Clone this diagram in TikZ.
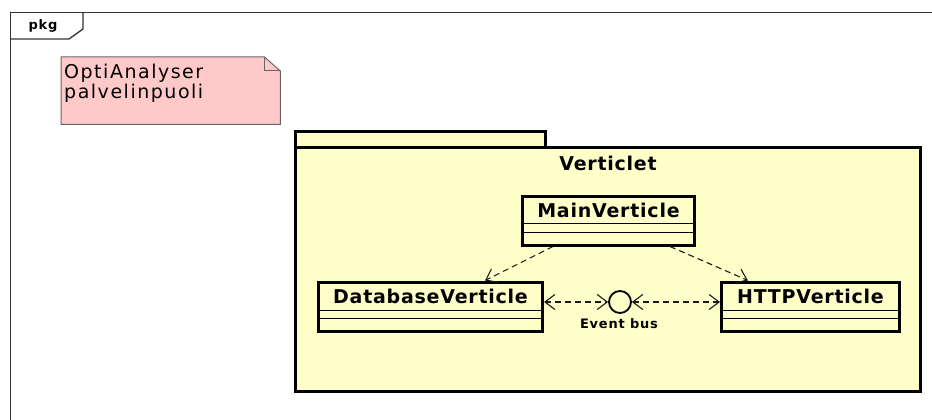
\documentclass[tikz,border=0pt]{standalone}
\usepackage{fontspec}
\setmainfont{DejaVu Sans}
\newfontfamily\clsfont[LetterSpace=4]{DejaVu Sans}
\newfontfamily\notefont[LetterSpace=8]{DejaVu Sans}
\newfontfamily\smallfont[LetterSpace=6]{DejaVu Sans}
\usetikzlibrary{arrows.meta}
\definecolor{pkgyellow}{HTML}{FFFFCA}
\definecolor{notepink}{HTML}{FFC9C9}
\tikzset{
  frameline/.style={draw=black!80, line width=1.3pt},
  pkgbox/.style={draw=black, line width=3pt, fill=pkgyellow, inner sep=0pt},
  classbox/.style={draw=black, line width=3pt, fill=pkgyellow, inner xsep=0pt, inner ysep=0pt,
    anchor=north, font=\fontsize{19}{21}\clsfont\bfseries\selectfont},
  sepline/.style={draw=black, line width=1pt},
  dep/.style={draw=black!90, line width=1.1pt, dash pattern=on 6pt off 4pt,
    -{Straight Barb[length=10pt,width=15pt]}},
  busdep/.style={dep, {Straight Barb[length=10pt,width=15pt]}-{Straight Barb[length=10pt,width=15pt]}},
  notebox/.style={draw=black!60, line width=1pt, fill=notepink},
}
\begin{document}
\begin{tikzpicture}[x=1pt,y=-1pt]
\useasboundingbox (0,0) rectangle (932,420);
% outer package frame
\coordinate (ftr) at (932,12.5);
\coordinate (ftl) at (10.5,12.5);
\coordinate (fbl) at (10.5,420);
\draw[frameline] (ftr) -- (ftl) -- (fbl);
\coordinate (tabtop) at (83,12.5);
\coordinate (tabr) at (83,29);
\coordinate (tabd) at (69,39);
\coordinate (tabl) at (10.5,39);
\draw[frameline] (tabtop) -- (tabr) -- (tabd) -- (tabl);
\node[font=\fontsize{13}{15}\smallfont\bfseries\selectfont, anchor=base] (pkglabel) at (43,30) {pkg};
% note
\node[minimum width=219pt, minimum height=67pt, inner sep=0pt, anchor=north west] (note) at (61,57) {};
\draw[notebox] (note.north west) -- ([xshift=-16pt]note.north east) -- ([yshift=-14pt]note.north east)
  -- (note.south east) -- (note.south west) -- cycle;
\draw[draw=black!60, line width=1pt] ([xshift=-16pt]note.north east) -- ([xshift=-16pt,yshift=-14pt]note.north east) -- ([yshift=-14pt]note.north east);
\node[anchor=north west, inner sep=0pt, align=left, font=\fontsize{19}{20}\notefont\selectfont] (notetxt) at (64,64) {OptiAnalyser\\palvelinpuoli};
% package Verticlet
\node[pkgbox, minimum width=250pt, minimum height=16pt] (pkgtab) at (420.5,139.5) {};
\node[pkgbox, minimum width=625pt, minimum height=244pt] (pkgbody) at (608,269.5) {};
\node[anchor=base, font=\fontsize{19}{21}\clsfont\bfseries\selectfont] (pkgname) at (608,170) {Verticlet};
% classes
\node[classbox, minimum width=172pt, text height=21.5pt, text depth=27.5pt] (main) at (608.5,194.5) {MainVerticle};
\draw[sepline] ([yshift=-29pt]main.north west) -- ([yshift=-29pt]main.north east);
\draw[sepline] ([yshift=-38pt]main.north west) -- ([yshift=-38pt]main.north east);
\node[classbox, minimum width=224pt, text height=21pt, text depth=28pt] (db) at (430.5,280.5) {DatabaseVerticle};
\draw[sepline] ([yshift=-29.5pt]db.north west) -- ([yshift=-29.5pt]db.north east);
\draw[sepline] ([yshift=-38pt]db.north west) -- ([yshift=-38pt]db.north east);
\node[classbox, minimum width=178pt, text height=21pt, text depth=28pt] (http) at (810.5,280.5) {HTTPVerticle};
\draw[sepline] ([yshift=-29.5pt]http.north west) -- ([yshift=-29.5pt]http.north east);
\draw[sepline] ([yshift=-38pt]http.north west) -- ([yshift=-38pt]http.north east);
% event bus
\node[circle, draw=black, line width=1.8pt, fill=pkgyellow, minimum size=22pt, inner sep=0pt] (bus) at (620,302) {};
\node[anchor=base, font=\fontsize{13}{15}\smallfont\bfseries\selectfont] (buslabel) at (619,328) {Event bus};
% connectors
\draw[dep] ([xshift=-55.5pt]main.south) -- ([xshift=54.5pt]db.north);
\draw[dep] ([xshift=61.5pt]main.south) -- ([xshift=-62.5pt]http.north);
\draw[busdep] (db.east |- bus.west) -- (bus.west);
\draw[busdep] (bus.east) -- (http.west |- bus.east);
\end{tikzpicture}
\end{document}
